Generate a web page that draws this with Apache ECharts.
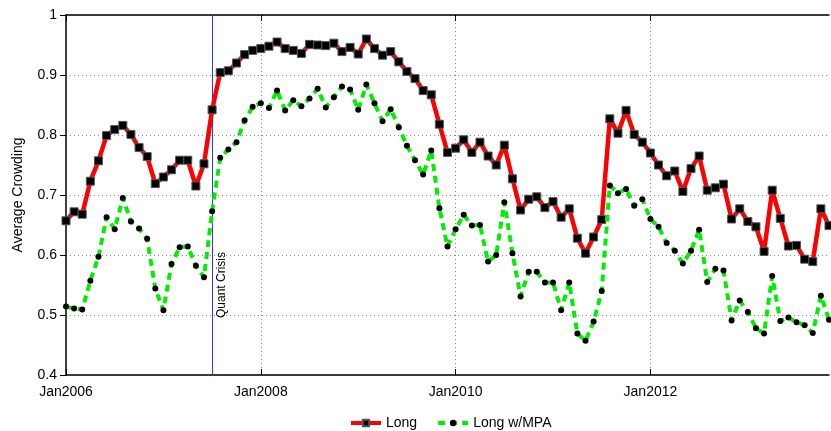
<!DOCTYPE html>
<html>
<head>
<meta charset="utf-8">
<script src="https://cdn.jsdelivr.net/npm/echarts@6/dist/echarts.min.js"></script>
<style>
  html, body { margin: 0; padding: 0; background: #fff; }
  #chart { width: 831px; height: 431px; }
</style>
</head>
<body>
<div id="chart"></div>
<script>
// Monthly average crowding, Jan 2006 – Nov 2013
const monthNames = ['Jan','Feb','Mar','Apr','May','Jun','Jul','Aug','Sep','Oct','Nov','Dec'];
const startYear = 2006;

const longCrowding = [
  0.657, 0.672, 0.668, 0.723, 0.757, 0.799, 0.809, 0.816, 0.801, 0.779, 0.764, 0.719,
  0.730, 0.742, 0.758, 0.758, 0.715, 0.752, 0.842, 0.904, 0.907, 0.920, 0.934, 0.941,
  0.944, 0.948, 0.955, 0.944, 0.941, 0.936, 0.951, 0.950, 0.949, 0.953, 0.939, 0.946,
  0.935, 0.960, 0.944, 0.933, 0.939, 0.922, 0.906, 0.894, 0.874, 0.867, 0.818, 0.771,
  0.778, 0.792, 0.771, 0.788, 0.765, 0.750, 0.783, 0.727, 0.675, 0.693, 0.697, 0.679,
  0.689, 0.663, 0.677, 0.628, 0.603, 0.630, 0.659, 0.827, 0.803, 0.841, 0.801, 0.788,
  0.770, 0.750, 0.732, 0.740, 0.706, 0.744, 0.765, 0.708, 0.712, 0.718, 0.660, 0.677,
  0.656, 0.647, 0.606, 0.708, 0.661, 0.615, 0.616, 0.593, 0.589, 0.677, 0.649
];

const longMpaCrowding = [
  0.514, 0.511, 0.509, 0.557, 0.597, 0.663, 0.643, 0.695, 0.656, 0.644, 0.627, 0.544,
  0.508, 0.585, 0.613, 0.614, 0.582, 0.563, 0.673, 0.762, 0.776, 0.788, 0.824, 0.847,
  0.853, 0.845, 0.874, 0.841, 0.858, 0.848, 0.861, 0.877, 0.846, 0.863, 0.881, 0.876,
  0.842, 0.884, 0.853, 0.823, 0.843, 0.813, 0.782, 0.758, 0.734, 0.774, 0.678, 0.614,
  0.643, 0.667, 0.649, 0.650, 0.589, 0.600, 0.688, 0.603, 0.531, 0.572, 0.572, 0.554,
  0.554, 0.508, 0.554, 0.469, 0.457, 0.489, 0.540, 0.716, 0.703, 0.710, 0.682, 0.693,
  0.660, 0.647, 0.620, 0.607, 0.586, 0.607, 0.642, 0.555, 0.577, 0.574, 0.491, 0.524,
  0.505, 0.478, 0.469, 0.565, 0.490, 0.496, 0.488, 0.483, 0.470, 0.532, 0.492
];

const yTicks = [0.4, 0.5, 0.6, 0.7, 0.8, 0.9, 1];
const crisisMonth = 'Jul2007';
const crisisLabel = 'Quant Crisis';

const categories = longCrowding.map((_, i) =>
  monthNames[i % 12] + (startYear + Math.floor(i / 12)));

const FONT = '"Liberation Sans", Arial, Helvetica, sans-serif';
const everyTwoYears = (idx) => idx % 24 === 0;

const chart = echarts.init(document.getElementById('chart'), null, { renderer: 'canvas' });

const option = {
  backgroundColor: '#ffffff',
  animation: false,
  textStyle: { fontFamily: FONT, color: '#000' },
  grid: { left: 66, right: 2, top: 15, bottom: 56, show: false },
  legend: {
    left: 344, top: 411,
    itemWidth: 30, itemHeight: 8, itemGap: 19,
    lineStyle: { width: 4 },
    textStyle: { fontFamily: FONT, fontSize: 14, color: '#000' },
    data: ['Long', 'Long w/MPA']
  },
  xAxis: [{
    type: 'category',
    data: categories,
    boundaryGap: false,
    axisLine: { show: true, lineStyle: { color: '#000', width: 1.5 } },
    axisTick: { show: true, inside: true, length: 6, interval: (i) => everyTwoYears(i), lineStyle: { color: '#000' } },
    axisLabel: { interval: (i) => everyTwoYears(i), fontSize: 14, color: '#000', margin: 10, fontFamily: FONT },
    splitLine: { show: true, interval: (i) => everyTwoYears(i) && i > 0,
      lineStyle: { color: '#888', width: 1, type: [1, 3] } }
  }, {
    type: 'category',
    data: categories,
    position: 'top',
    boundaryGap: false,
    axisLine: { show: true, lineStyle: { color: '#000', width: 1.5 } },
    axisTick: { show: true, inside: true, length: 6, interval: (i) => everyTwoYears(i), lineStyle: { color: '#000' } },
    axisLabel: { show: false },
    splitLine: { show: false }
  }],
  yAxis: {
    type: 'value',
    min: yTicks[0], max: yTicks[yTicks.length - 1], interval: 0.1,
    name: 'Average Crowding',
    nameLocation: 'middle',
    nameGap: 41,
    nameTextStyle: { fontSize: 14, color: '#000', fontFamily: FONT },
    axisLine: { show: true, lineStyle: { color: '#000', width: 1.5 } },
    axisTick: { show: true, inside: false, length: 6, lineStyle: { color: '#000' } },
    axisLabel: { fontSize: 14, color: '#000', margin: 9, fontFamily: FONT,
      formatter: (v) => String(Math.round(v * 10) / 10) },
    splitLine: { show: true, lineStyle: { color: '#888', width: 1, type: [1, 3] } }
  },
  series: [{
    name: 'Long',
    type: 'line',
    data: longCrowding,
    xAxisIndex: 0,
    symbol: 'rect',
    symbolSize: 8,
    showAllSymbol: true,
    lineStyle: { color: '#ff0000', width: 4.5 },
    itemStyle: { color: '#000', borderColor: '#555', borderWidth: 1 },
    z: 3,
    markLine: {
      silent: true,
      symbol: ['none', 'none'],
      label: { show: false },
      lineStyle: { color: '#3333ff', width: 1, type: 'solid' },
      data: [{ xAxis: crisisMonth }],
      z: 1
    }
  }, {
    name: 'Long w/MPA',
    type: 'line',
    data: longMpaCrowding,
    xAxisIndex: 0,
    symbol: 'circle',
    symbolSize: 6,
    showAllSymbol: true,
    lineStyle: { color: '#00ee00', width: 4, type: [7, 5] },
    itemStyle: { color: '#000', borderColor: '#000', borderWidth: 0 },
    z: 4
  }]
};

chart.setOption(option);

// Event label placed beside the crisis marker line
const anchor = chart.convertToPixel({ xAxisIndex: 0, yAxisIndex: 0 }, [crisisMonth, 0.495]);
chart.setOption({
  graphic: [{
    type: 'text',
    x: anchor[0] + 10,
    y: anchor[1],
    rotation: Math.PI / 2,
    style: {
      text: crisisLabel,
      font: '12px ' + FONT,
      fill: '#000',
      align: 'left',
      verticalAlign: 'middle'
    },
    z: 10
  }]
});
</script>
</body>
</html>
